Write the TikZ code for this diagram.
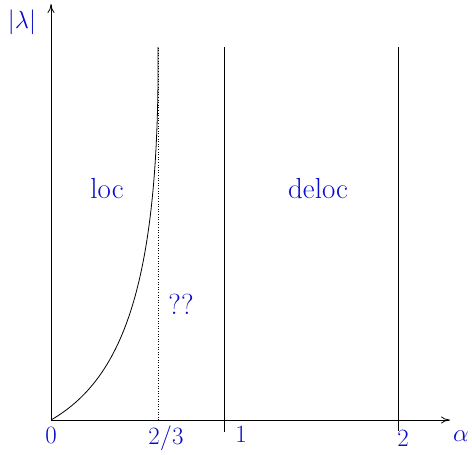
\documentclass[tikz,border=0pt]{standalone}
\usetikzlibrary{arrows.meta}
\definecolor{lbl}{RGB}{10,10,200}
\begin{document}
\begin{tikzpicture}[x=1pt,y=-1pt,
  axis/.style={line width=0.8pt,-{To[length=9pt,width=7pt]}},
  thin line/.style={line width=0.8pt},
  lab/.style={text=lbl,font=\fontsize{29}{33}\selectfont,inner sep=0pt}]
\useasboundingbox (0,0) rectangle (472,455);
\coordinate (O) at (51,420);
\coordinate (xend) at (450,420);
\coordinate (yend) at (51,4);
\draw[axis] (O) -- (xend);
\draw[axis] (O) -- (yend);
\coordinate (d1) at (158,420);
\coordinate (d2) at (158,47);
\draw[line width=0.6pt,dotted] (d1) -- (d2);
\coordinate (a1) at (224,432);
\coordinate (a2) at (224,47);
\coordinate (b1) at (398,431);
\coordinate (b2) at (398,47);
\draw[thin line] (a1) -- (a2);
\draw[thin line] (b1) -- (b2);
\coordinate (ctop) at (158,47);
\draw[thin line] (O) .. controls (120,380) and (160,290) .. (ctop);
\node[lab] (lam) at (22,22) {$|\lambda|$};
\node[lab] (zero) at (51,435) {$0$};
\node[lab] (twothirds) at (166,438) {$2/3$};
\node[lab] (one) at (241,434) {$1$};
\node[lab] (two) at (403,438) {$2$};
\node[lab] (alpha) at (461,436) {$\alpha$};
\node[lab] (loc) at (107,189) {loc};
\node[lab] (deloc) at (318,189) {deloc};
\node[lab] (qq) at (181,304) {??};
\end{tikzpicture}
\end{document}
